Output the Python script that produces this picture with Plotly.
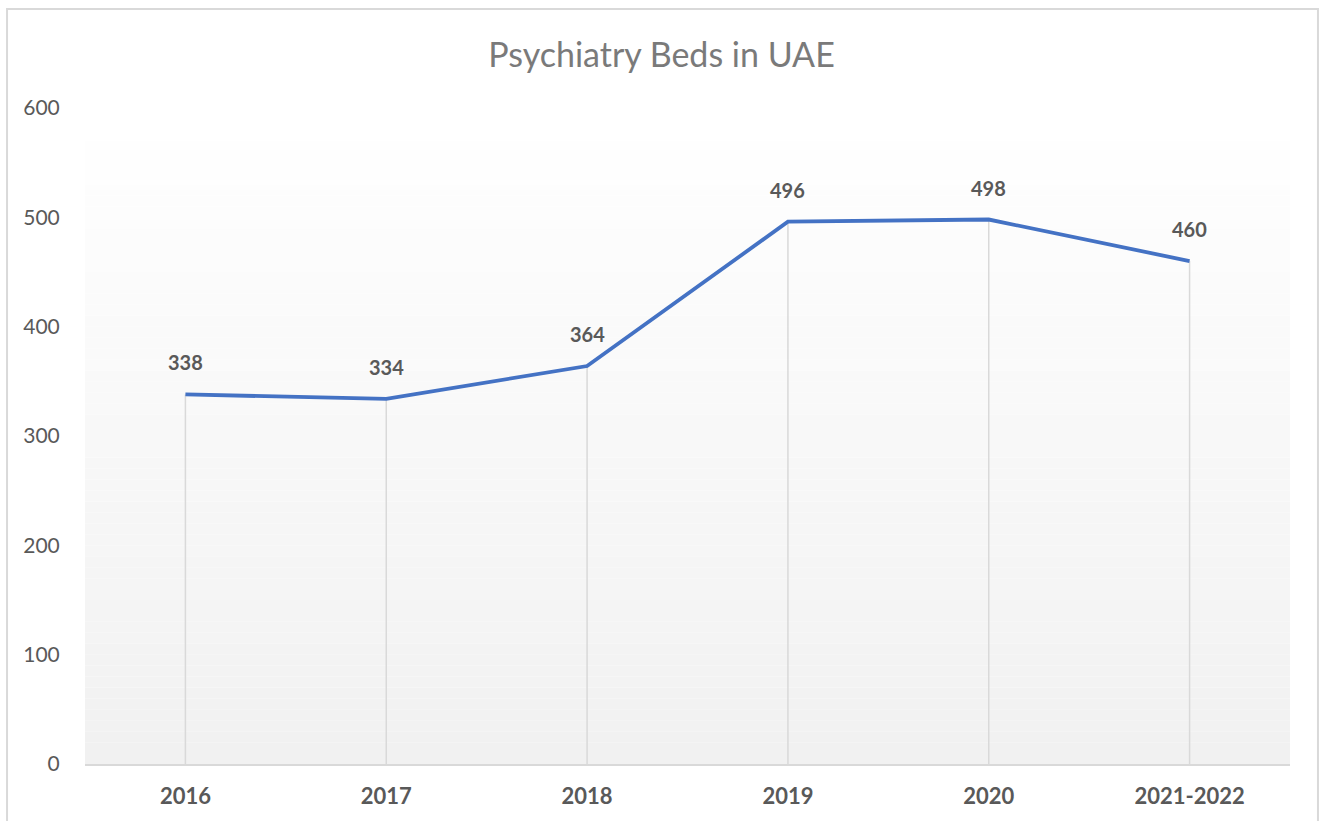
import plotly.graph_objects as go

categories = ["2016", "2017", "2018", "2019", "2020", "2021-2022"]
beds = [338, 334, 364, 496, 498, 460]
y_ticks = [0, 100, 200, 300, 400, 500, 600]
title_text = "Psychiatry Beds in UAE"

FONT = "Lato, 'Open Sans', sans-serif"
LABEL_COLOR = "#595959"

fig = go.Figure()

# drop lines from each point down to the axis
dx, dy = [], []
for c, v in zip(categories, beds):
    dx += [c, c, None]
    dy += [0, v, None]
fig.add_trace(go.Scatter(x=dx, y=dy, mode="lines",
                         line=dict(color="#d9d9d9", width=1.5),
                         hoverinfo="skip", showlegend=False))

fig.add_trace(go.Scatter(x=categories, y=beds, mode="lines",
                         line=dict(color="#4472C4", width=3.8),
                         showlegend=False))

for i, v in enumerate(beds):
    fig.add_annotation(x=i, y=v, text=f"<b>{v}</b>", showarrow=False,
                       xref="x", yref="y",
                       yshift=32, font=dict(family=FONT, size=20, color="#595959"))

# gradient background for plot area
n = 60
shapes = []
for i in range(n):
    t = i / (n - 1)
    g = round(255 - (255 - 241) * (1 - t))
    shapes.append(dict(type="rect", xref="paper", yref="paper",
                       x0=0, x1=1, y0=i / n, y1=(i + 1) / n,
                       fillcolor=f"rgb({g},{g},{g})", line=dict(width=0),
                       layer="below"))
# chart border
shapes.append(dict(type="rect", xref="paper", yref="paper",
                   x0=-0.0647, x1=1.0232, y0=-0.2, y1=1.151,
                   line=dict(color="#d9d9d9", width=2), fillcolor="rgba(0,0,0,0)",
                   layer="above"))

fig.update_layout(
    width=1323, height=821,
    margin=dict(l=85, r=33, t=108, b=57, autoexpand=False),
    paper_bgcolor="white", plot_bgcolor="rgba(0,0,0,0)",
    shapes=shapes,
    title=dict(text=title_text, x=0.5, xanchor="center", y=1 - 55 / 821,
               yanchor="middle", font=dict(family=FONT, size=34, color="#7a7a7a")),
    xaxis=dict(type="category", showgrid=False, zeroline=False, automargin=False,
               showline=True, linecolor="#d9d9d9", linewidth=1.5,
               ticks="outside", ticklen=12, tickcolor="rgba(0,0,0,0)",
               tickfont=dict(family=FONT, size=22, color=LABEL_COLOR, weight="bold"),
               range=[-0.5, 5.5]),
    yaxis=dict(range=[0, 600], tickvals=y_ticks, showgrid=False, zeroline=False,
               automargin=False,
               showline=False, ticks="outside", ticklen=20,
               tickcolor="rgba(0,0,0,0)",
               tickfont=dict(family=FONT, size=21, color=LABEL_COLOR)),
)

fig.write_html("out.html", config={"displayModeBar": False},
               post_script="document.body.style.margin='0';document.body.style.overflow='hidden';")
